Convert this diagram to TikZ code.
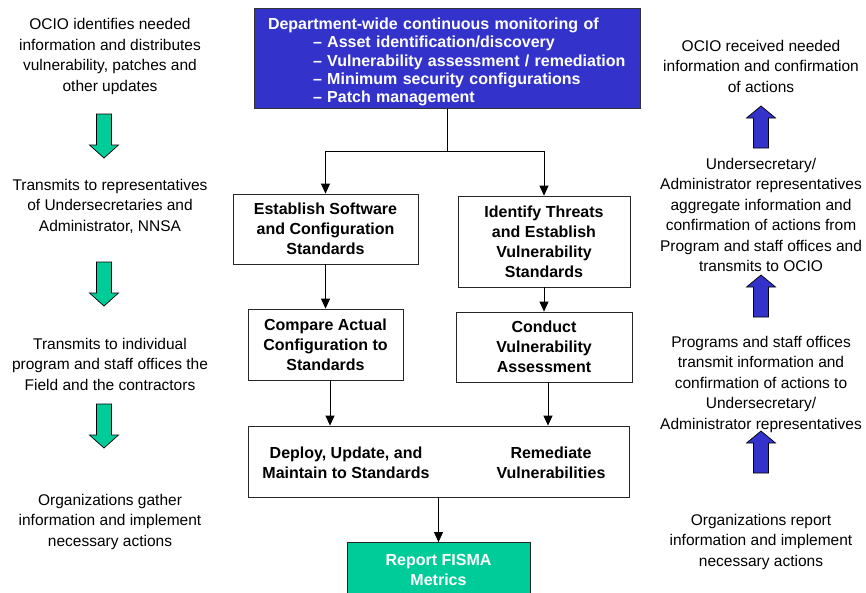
\documentclass[tikz,border=0pt]{standalone}
\usepackage{fontspec}
\setmainfont{Liberation Sans}
\usetikzlibrary{arrows.meta}
\definecolor{deptblue}{HTML}{3333CC}
\definecolor{reportgreen}{HTML}{00CC99}
\tikzset{
  box/.style={draw=black!85, line width=0.8pt, fill=white, inner sep=0pt, align=center,
    font=\bfseries\fontsize{16}{20}\selectfont},
  label/.style={inner sep=0pt, align=center, font=\bfseries\fontsize{16}{20}\selectfont},
  note/.style={inner sep=0pt, align=center, font=\fontsize{15.5}{20.5}\selectfont},
  conn/.style={draw=black, line width=0.8pt},
  arr/.style={conn, -{Triangle[width=9pt,length=10pt]}},
  blockline/.style={draw=black, line width=0.7pt, line join=miter},
  downblock/.pic={\path[blockline, fill=reportgreen]
    (-7.5,0) -- (7.5,0) -- (7.5,31) -- (14.5,31) -- (0,44) -- (-14.5,31) -- (-7.5,31) -- cycle;},
  upblock/.pic={\path[blockline, fill=deptblue]
    (0,0) -- (14.5,12) -- (7.5,12) -- (7.5,42) -- (-7.5,42) -- (-7.5,12) -- (-14.5,12) -- cycle;}
}
\begin{document}
\begin{tikzpicture}[x=1pt, y=-1pt]
\clip (0,0) rectangle (866,592);
\fill[white] (0,0) rectangle (866,592);

% central monitoring box and its list
\node[draw=black!80, line width=1pt, fill=deptblue, inner sep=0pt,
      minimum width=386pt, minimum height=100pt] (top) at (447,58) {};
\node[text=white, inner sep=0pt, text width=358pt, align=left,
      font=\bfseries\fontsize{16}{18.3}\selectfont] (toptxt) at (447,62)
  {Department-wide continuous monitoring of\\
   \hspace*{45pt}– Asset identification/discovery\\
   \hspace*{45pt}– Vulnerability assessment / remediation\\
   \hspace*{45pt}– Minimum security configurations\\
   \hspace*{45pt}– Patch management};

% process boxes
\node[box, minimum width=185pt, minimum height=70pt] (swstd) at (325.5,229)
  {Establish Software\\and Configuration\\Standards};
\node[box, minimum width=172pt, minimum height=91pt] (vulstd) at (544,241.5)
  {Identify Threats\\and Establish\\Vulnerability\\Standards};
\node[box, minimum width=155pt, minimum height=71pt] (compare) at (325.5,344.5)
  {Compare Actual\\Configuration to\\Standards};
\node[box, minimum width=176pt, minimum height=70pt] (assess) at (544,347)
  {Conduct\\Vulnerability\\Assessment};
\node[box, minimum width=381pt, minimum height=71pt] (deploy) at (438.5,461.5) {};
\node[label] (deploytxt) at (346,462.5) {Deploy, Update, and\\Maintain to Standards};
\node[label] (remtxt) at (551,462.5) {Remediate\\Vulnerabilities};
\node[box, fill=reportgreen, text=white, minimum width=183pt, minimum height=54pt] (report)
  at (438.5,569.5) {Report FISMA\\Metrics};

% connectors
\coordinate (split) at (447,151);
\draw[conn] (top.south) -- (split);
\draw[arr] (split) -| (swstd.north);
\draw[arr] (split) -| (vulstd.north);
\draw[arr] (swstd.south) -- (compare.north);
\draw[arr] (vulstd.south) -- (assess.north);
\draw[arr] ([xshift=4.5pt]compare.south) -- ([xshift=4.5pt]compare.south |- deploy.north);
\draw[arr] ([xshift=4pt]assess.south) -- ([xshift=4pt]assess.south |- deploy.north);
\draw[arr] (deploy.south) -- (report.north);

% distribution path (left)
\node[note] (l1) at (110,56.5) {OCIO identifies needed\\information and distributes\\vulnerability, patches and\\other updates};
\node[note] (l2) at (110,206) {Transmits to representatives\\of Undersecretaries and\\Administrator, NNSA};
\node[note] (l3) at (110,364) {Transmits to individual\\program and staff offices the\\Field and the contractors};
\node[note] (l4) at (110,521.5) {Organizations gather\\information and implement\\necessary actions};
\pic at (104,114) {downblock};
\pic at (104,262) {downblock};
\pic at (104,404) {downblock};

% reporting path (right)
\node[note] (r1) at (761,66) {OCIO received needed\\information and confirmation\\of actions};
\node[note] (r2) at (761,215) {Undersecretary/\\Administrator representatives\\aggregate information and\\confirmation of actions from\\Program and staff offices and\\transmits to OCIO};
\node[note] (r3) at (761,384) {Programs and staff offices\\transmit information and\\confirmation of actions to\\Undersecretary/\\Administrator representatives};
\node[note] (r4) at (761,541.5) {Organizations report\\information and implement\\necessary actions};
\pic at (761,106) {upblock};
\pic at (761,275) {upblock};
\pic at (761,431) {upblock};
\end{tikzpicture}
\end{document}
